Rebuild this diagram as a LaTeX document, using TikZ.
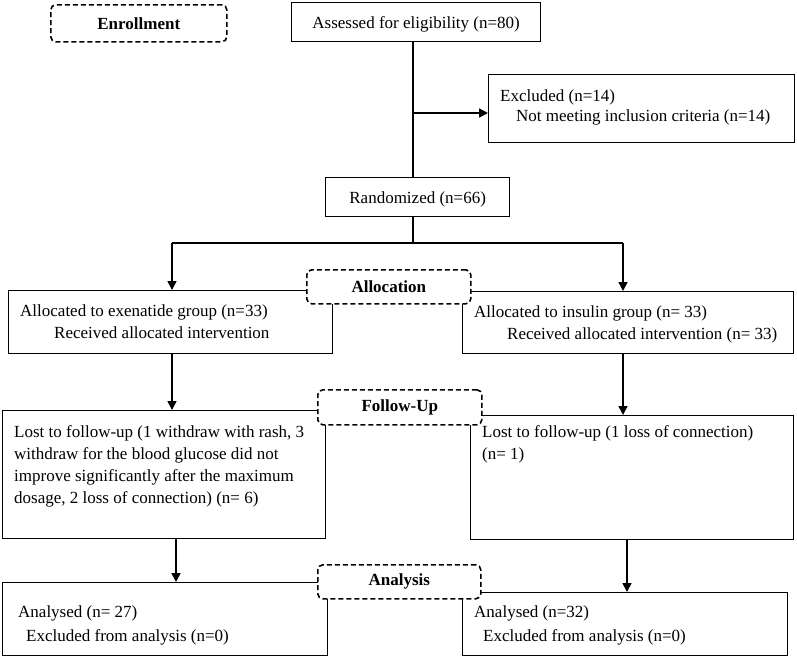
\documentclass[tikz,border=0pt]{standalone}
\usepackage{fontspec}
\setmainfont{Liberation Serif}
\usetikzlibrary{arrows.meta,calc}
\begin{document}
\begin{tikzpicture}[x=1pt,y=-1pt,
  every node/.style={font=\fontsize{17}{21}\selectfont},
  box/.style={draw,line width=1.3pt,inner sep=0pt,anchor=north west,fill=none},
  stage/.style={draw,line width=1.6pt,dash pattern=on 5pt off 3pt,rounded corners=5pt,fill=white,inner sep=0pt,anchor=north west,font=\fontsize{17}{21}\selectfont\bfseries},
  txt/.style={anchor=base west,inner sep=0pt},
  link/.style={line width=1.6pt},
  arr/.style={line width=1.6pt,-{Triangle[length=9pt,width=9pt]}}]
\useasboundingbox (0,0) rectangle (797,657);
% solid boxes
\node[box,minimum width=249pt,minimum height=39pt] (assessed) at (291,2) {};
\node[box,minimum width=306pt,minimum height=68pt] (excluded) at (488,74) {};
\node[box,minimum width=184pt,minimum height=39pt] (random) at (325,177) {};
\node[box,minimum width=324pt,minimum height=63pt] (allocL) at (8,290) {};
\node[box,minimum width=331pt,minimum height=62pt] (allocR) at (462,291) {};
\node[box,minimum width=323pt,minimum height=128pt] (followL) at (2,410) {};
\node[box,minimum width=323pt,minimum height=124pt] (followR) at (470,415) {};
\node[box,minimum width=325pt,minimum height=73pt] (anaL) at (2,582) {};
\node[box,minimum width=325pt,minimum height=63pt] (anaR) at (462,592) {};
% stage labels
\node[stage,minimum width=176pt,minimum height=37pt] (enroll) at (50,4) {Enrollment};
\node[stage,minimum width=164pt,minimum height=34pt] (allocation) at (306,269) {Allocation};
\node[stage,minimum width=164pt,minimum height=35pt] (followup) at (317,389) {Follow-Up};
\node[stage,minimum width=163pt,minimum height=34pt] (analysis) at (317,564) {Analysis};
% texts
\node[anchor=base] (tA) at ($(assessed.north)+(0,26)$) {Assessed for eligibility (n=80)};
\node[txt] (tE1) at (500,101) {Excluded (n=14)};
\node[txt] (tE2) at (516,121) {Not meeting inclusion criteria (n=14)};
\node[anchor=base] (tR) at ($(random.north)+(0,26)$) {Randomized (n=66)};
\node[txt] (tAL1) at (20,316) {Allocated to exenatide group (n=33)};
\node[txt] (tAL2) at (54,338) {Received allocated intervention};
\node[txt] (tAR1) at (474,317) {Allocated to insulin group (n= 33)};
\node[txt] (tAR2) at (507,339) {Received allocated intervention (n= 33)};
\node[txt] (tFL1) at (14,437) {Lost to follow-up (1 withdraw with rash, 3};
\node[txt] (tFL2) at (14,459) {withdraw for the blood glucose did not};
\node[txt] (tFL3) at (14,481) {improve significantly after the maximum};
\node[txt] (tFL4) at (14,503) {dosage, 2 loss of connection) (n= 6)};
\node[txt] (tFR1) at (482,437) {Lost to follow-up (1 loss of connection)};
\node[txt] (tFR2) at (482,459) {(n= 1)};
\node[txt] (tNL1) at (18,617) {Analysed (n= 27)};
\node[txt] (tNL2) at (26,641) {Excluded from analysis (n=0)};
\node[txt] (tNR1) at (474,617) {Analysed (n=32)};
\node[txt] (tNR2) at (483,641) {Excluded from analysis (n=0)};
% connectors
\coordinate (vx) at (413,0);
\coordinate (split) at (413,243);
\coordinate (cL) at (172,243);
\coordinate (cR) at (623,243);
\coordinate (cL2) at (176,0);
\coordinate (cR2) at (627,0);
\draw[link] (vx |- assessed.south) -- (vx |- random.north);
\draw[arr] (vx |- 0,113) -- (excluded.west |- 0,113);
\draw[link] (vx |- random.south) -- (split);
\draw[link] (cL) -- (cR);
\draw[arr] (cL) -- (cL |- allocL.north);
\draw[arr] (cR) -- (cR |- allocR.north);
\draw[arr] (cL |- allocL.south) -- (cL |- followL.north);
\draw[arr] (cR |- allocR.south) -- (cR |- followR.north);
\draw[arr] (cL2 |- followL.south) -- (cL2 |- anaL.north);
\draw[arr] (cR2 |- followR.south) -- (cR2 |- anaR.north);
\end{tikzpicture}
\end{document}
